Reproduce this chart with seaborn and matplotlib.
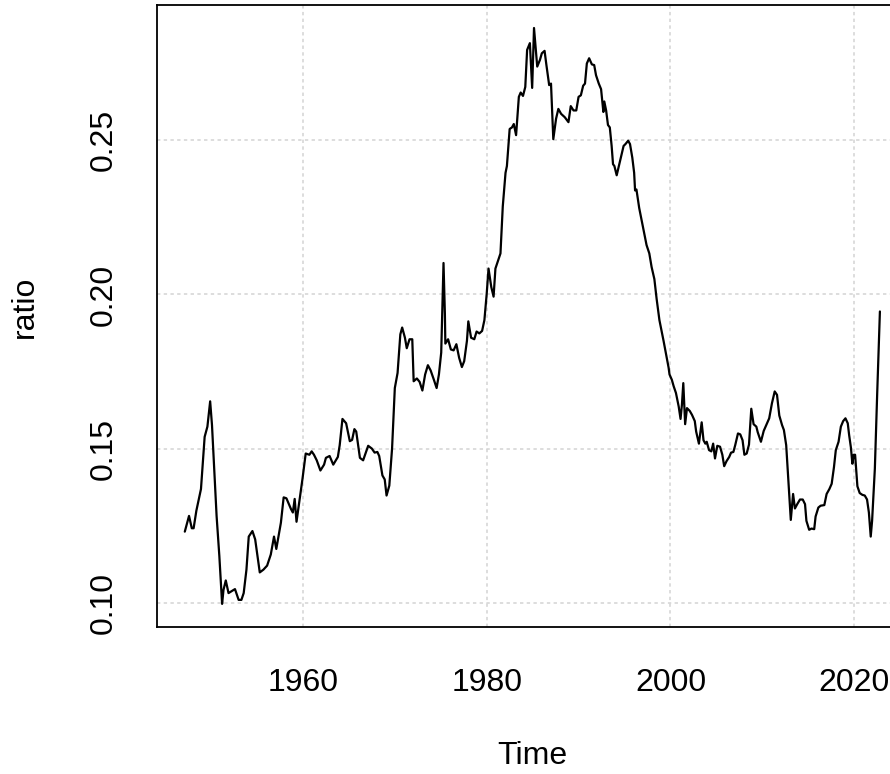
import numpy as np
import pandas as pd
import matplotlib
matplotlib.use("Agg")
import matplotlib.pyplot as plt
import seaborn as sns

# vertices of the quarterly series
years = [
    1947.14, 1947.6, 1947.9, 1948.1, 1948.4, 1948.9, 1949.3, 1949.6, 1949.9, 1950.1,
    1950.6, 1950.9, 1951.2, 1951.35, 1951.6, 1951.9, 1952.6, 1953.0, 1953.3, 1953.55,
    1953.85, 1954.1, 1954.5, 1954.8, 1955.3, 1955.7, 1956.1, 1956.5, 1956.85, 1957.1,
    1957.6, 1957.9, 1958.2, 1958.7, 1958.9, 1959.1, 1959.3, 1959.6, 1959.95, 1960.3,
    1960.7, 1960.95, 1961.2, 1961.5, 1961.9, 1962.3, 1962.5, 1962.9, 1963.3, 1963.8,
    1964.0, 1964.3, 1964.7, 1965.1, 1965.35, 1965.6, 1965.8, 1966.2, 1966.55, 1967.1,
    1967.5, 1967.8, 1968.1, 1968.3, 1968.65, 1968.9, 1969.1, 1969.4, 1969.7, 1970.0,
    1970.3, 1970.6, 1970.8, 1971.1, 1971.3, 1971.6, 1971.9, 1972.05, 1972.4, 1972.7,
    1973.0, 1973.3, 1973.6, 1973.9, 1974.25, 1974.55, 1974.8, 1975.05, 1975.3, 1975.45,
    1975.5, 1975.8, 1976.1, 1976.4, 1976.7, 1977.0, 1977.3, 1977.55, 1977.85, 1978.0,
    1978.3, 1978.65, 1978.9, 1979.2, 1979.5, 1979.75, 1980.0, 1980.2, 1980.5, 1980.75,
    1980.95, 1981.2, 1981.5, 1981.75, 1982.05, 1982.2, 1982.5, 1982.75, 1982.95, 1983.2,
    1983.5, 1983.7, 1983.95, 1984.2, 1984.4, 1984.7, 1984.95, 1985.15, 1985.5, 1985.8,
    1986.0, 1986.3, 1986.5, 1986.8, 1987.0, 1987.25, 1987.55, 1987.8, 1988.1, 1988.5,
    1988.9, 1989.15, 1989.45, 1989.75, 1990.0, 1990.25, 1990.5, 1990.7, 1990.9, 1991.15,
    1991.45, 1991.7, 1991.9, 1992.2, 1992.45, 1992.7, 1992.8, 1993.0, 1993.2, 1993.4,
    1993.6, 1993.75, 1993.9, 1994.15, 1994.4, 1994.65, 1994.9, 1995.1, 1995.4, 1995.6,
    1995.85, 1996.05, 1996.15, 1996.3, 1996.6, 1996.85, 1997.15, 1997.4, 1997.7, 1997.95,
    1998.25, 1998.5, 1998.8, 1999.25, 1999.6, 1999.8, 1999.9, 2000.15, 2000.35, 2000.6,
    2000.9, 2001.1, 2001.25, 2001.4, 2001.6, 2001.8, 2002.1, 2002.35, 2002.65, 2002.8,
    2003.1, 2003.4, 2003.6, 2003.8, 2003.95, 2004.2, 2004.45, 2004.65, 2004.85, 2005.1,
    2005.4, 2005.65, 2005.85, 2006.1, 2006.4, 2006.6, 2006.85, 2007.05, 2007.35, 2007.6,
    2007.85, 2008.05, 2008.3, 2008.55, 2008.8, 2009.05, 2009.35, 2009.5, 2009.85, 2010.15,
    2010.4, 2010.75, 2011.05, 2011.35, 2011.6, 2011.85, 2012.15, 2012.35, 2012.6, 2012.8,
    2013.1, 2013.35, 2013.55, 2013.8, 2014.1, 2014.4, 2014.65, 2014.8, 2015.1, 2015.35,
    2015.65, 2015.8, 2016.1, 2016.35, 2016.75, 2017.0, 2017.3, 2017.55, 2017.8, 2018.0,
    2018.3, 2018.55, 2018.8, 2019.05, 2019.3, 2019.45, 2019.65, 2019.8, 2019.95, 2020.1,
    2020.35, 2020.6, 2020.9, 2021.15, 2021.4, 2021.6, 2021.8, 2021.95, 2022.25, 2022.5,
    2022.8,
]
ratio = [
    0.1232, 0.1283, 0.1243, 0.1243, 0.1300, 0.1370, 0.1539, 0.1572, 0.1654, 0.1577,
    0.1283, 0.1153, 0.0998, 0.1043, 0.1074, 0.1033, 0.1046, 0.1011, 0.1011, 0.1033,
    0.1109, 0.1216, 0.1234, 0.1207, 0.1100, 0.1109, 0.1122, 0.1158, 0.1216, 0.1176,
    0.1261, 0.1343, 0.1340, 0.1305, 0.1294, 0.1338, 0.1264, 0.1327, 0.1403, 0.1485,
    0.1481, 0.1492, 0.1481, 0.1463, 0.1430, 0.1449, 0.1471, 0.1477, 0.1449, 0.1474,
    0.1512, 0.1597, 0.1583, 0.1525, 0.1529, 0.1564, 0.1556, 0.1471, 0.1463, 0.1510,
    0.1501, 0.1488, 0.1490, 0.1477, 0.1414, 0.1401, 0.1349, 0.1381, 0.1501, 0.1697,
    0.1746, 0.1871, 0.1893, 0.1860, 0.1826, 0.1855, 0.1855, 0.1719, 0.1728, 0.1717,
    0.1689, 0.1741, 0.1771, 0.1754, 0.1724, 0.1697, 0.1741, 0.1812, 0.2102, 0.1937,
    0.1841, 0.1855, 0.1822, 0.1819, 0.1839, 0.1795, 0.1765, 0.1784, 0.1850, 0.1913,
    0.1860, 0.1855, 0.1880, 0.1874, 0.1882, 0.1917, 0.2002, 0.2084, 0.2024, 0.1993,
    0.2084, 0.2106, 0.2133, 0.2285, 0.2394, 0.2416, 0.2536, 0.2541, 0.2552, 0.2516,
    0.2640, 0.2654, 0.2643, 0.2672, 0.2792, 0.2814, 0.2669, 0.2863, 0.2738, 0.2760,
    0.2781, 0.2789, 0.2743, 0.2678, 0.2683, 0.2503, 0.2569, 0.2601, 0.2585, 0.2574,
    0.2558, 0.2610, 0.2596, 0.2596, 0.2640, 0.2645, 0.2676, 0.2683, 0.2748, 0.2765,
    0.2745, 0.2743, 0.2710, 0.2683, 0.2665, 0.2591, 0.2625, 0.2596, 0.2549, 0.2541,
    0.2481, 0.2422, 0.2416, 0.2386, 0.2418, 0.2449, 0.2481, 0.2487, 0.2498, 0.2487,
    0.2443, 0.2394, 0.2337, 0.2340, 0.2280, 0.2242, 0.2198, 0.2160, 0.2133, 0.2089,
    0.2050, 0.1985, 0.1917, 0.1850, 0.1795, 0.1763, 0.1741, 0.1724, 0.1703, 0.1681,
    0.1637, 0.1597, 0.1643, 0.1713, 0.1580, 0.1632, 0.1623, 0.1610, 0.1590, 0.1556,
    0.1517, 0.1586, 0.1528, 0.1517, 0.1523, 0.1496, 0.1492, 0.1517, 0.1469, 0.1510,
    0.1507, 0.1481, 0.1444, 0.1460, 0.1474, 0.1488, 0.1490, 0.1512, 0.1550, 0.1547,
    0.1528, 0.1481, 0.1485, 0.1514, 0.1630, 0.1580, 0.1572, 0.1554, 0.1523, 0.1558,
    0.1575, 0.1599, 0.1648, 0.1686, 0.1675, 0.1608, 0.1577, 0.1561, 0.1512, 0.1414,
    0.1270, 0.1354, 0.1307, 0.1321, 0.1336, 0.1336, 0.1321, 0.1267, 0.1238, 0.1242,
    0.1240, 0.1281, 0.1310, 0.1316, 0.1318, 0.1354, 0.1370, 0.1387, 0.1441, 0.1496,
    0.1523, 0.1572, 0.1590, 0.1599, 0.1583, 0.1545, 0.1503, 0.1452, 0.1481, 0.1481,
    0.1379, 0.1357, 0.1351, 0.1349, 0.1336, 0.1294, 0.1216, 0.1267, 0.1436, 0.1675,
    0.1945,
]

x_ticks = [1960, 1980, 2000, 2020]
y_ticks = [0.10, 0.15, 0.20, 0.25]

df = pd.DataFrame({"Time": years, "ratio": ratio})

sns.set_style("white")
plt.rcParams["font.family"] = ["Liberation Sans", "DejaVu Sans"]

fig = plt.figure(figsize=(8.9, 7.74), dpi=100)
ax = fig.add_axes([0.1764, 0.19, 0.8435, 0.8036])

sns.lineplot(data=df, x="Time", y="ratio", ax=ax, color="black",
             linewidth=1.6, sort=False, estimator=None)

# R-style 4% padding on both axes
xr = max(years) - min(years)
yr = max(ratio) - min(ratio)
ax.set_xlim(min(years) - 0.04 * xr, max(years) + 0.04 * xr)
ax.set_ylim(min(ratio) - 0.04 * yr, max(ratio) + 0.04 * yr)

ax.set_xticks(x_ticks)
ax.set_yticks(y_ticks)
ax.set_xticklabels([str(t) for t in x_ticks])
ax.set_yticklabels([f"{t:.2f}" for t in y_ticks], rotation=90, va="center")

for t in x_ticks:
    ax.axvline(t, color="#d3d3d3", linestyle=(0, (2.2, 2.2)), linewidth=1.1, zorder=0)
for t in y_ticks:
    ax.axhline(t, color="#d3d3d3", linestyle=(0, (2.2, 2.2)), linewidth=1.1, zorder=0)

for s in ax.spines.values():
    s.set_color("black")
    s.set_linewidth(1.3)

ax.tick_params(axis="both", direction="out", length=14.4, width=1.2,
               colors="black", labelsize=23)
ax.tick_params(axis="x", pad=15)
ax.tick_params(axis="y", pad=13)

ax.set_xlabel("Time", fontsize=23, color="black")
ax.set_ylabel("ratio", fontsize=23, color="black")
ax.xaxis.label.set_va("baseline")
ax.xaxis.set_label_coords(532 / 890, 10 / 774, transform=fig.transFigure)
ax.yaxis.label.set_va("baseline")
ax.yaxis.set_label_coords(33 / 890, (774 - 307) / 774, transform=fig.transFigure)

plt.savefig("out.png", dpi=100)
plt.close()
